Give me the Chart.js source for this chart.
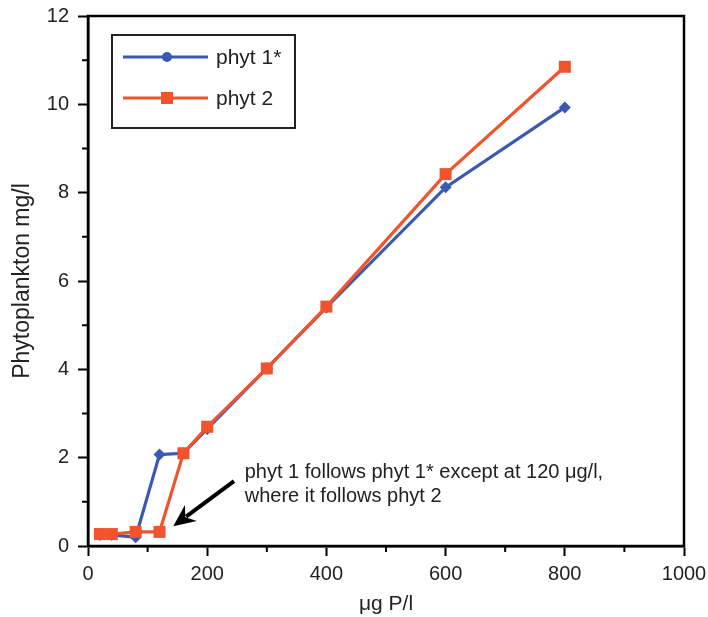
<!DOCTYPE html>
<html>
<head>
<meta charset="utf-8">
<script src="https://cdn.jsdelivr.net/npm/chart.js@4/dist/chart.umd.min.js"></script>
<style>
  html, body { margin: 0; padding: 0; background: #fff; }
  #wrap { width: 708px; height: 617px; }
</style>
</head>
<body>
<div id="wrap"><canvas id="c"></canvas></div>
<script>
const FONT = "'Liberation Sans', Arial, Helvetica, sans-serif";
const BLUE = '#3a5ab2';
const RED  = '#f0542c';

// µg P/l
const phosphorus = [20, 40, 80, 120, 160, 200, 300, 400, 600, 800];
// phytoplankton mg/l
const phyt1Star = [0.25, 0.25, 0.2, 2.07, 2.1, 2.65, 4.02, 5.4, 8.12, 9.93];
const phyt2     = [0.27, 0.27, 0.32, 0.32, 2.1, 2.7, 4.02, 5.42, 8.42, 10.85];

const xTicks = [0, 200, 400, 600, 800, 1000];
const yTicks = [0, 2, 4, 6, 8, 10, 12];

const noteLines = ['phyt 1 follows phyt 1* except at 120 \u03bcg/l,', 'where it follows phyt 2'];
// annotation anchors in data units
const noteAt   = { x: 263, y: [1.67, 1.13] };
const arrowTip = { x: 143, y: 0.45 };
const arrowTail = { x: 245, y: 1.47 };

const toPts = ys => phosphorus.map((x, i) => ({ x, y: ys[i] }));

const extras = {
  id: 'extras',
  afterDraw(chart) {
    const { ctx, chartArea: a, scales: { x, y } } = chart;
    ctx.save();

    // frame
    ctx.strokeStyle = '#000';
    ctx.lineWidth = 2.5;
    ctx.strokeRect(a.left, a.top, a.right - a.left, a.bottom - a.top);

    // minor ticks
    ctx.lineWidth = 2;
    ctx.beginPath();
    for (let v = 100; v < 1000; v += 200) {
      const px = x.getPixelForValue(v);
      ctx.moveTo(px, a.bottom); ctx.lineTo(px, a.bottom + 6);
    }
    for (let v = 1; v < 12; v += 2) {
      const py = y.getPixelForValue(v);
      ctx.moveTo(a.left, py); ctx.lineTo(a.left - 6, py);
    }
    ctx.stroke();

    // legend
    const lx = a.left + 24, ly = a.top + 19, lw = 183, lh = 93;
    ctx.lineWidth = 2;
    ctx.strokeStyle = '#222';
    ctx.strokeRect(lx, ly, lw, lh);
    ctx.font = '21px ' + FONT;
    ctx.textBaseline = 'middle';
    chart.data.datasets.forEach((ds, i) => {
      const cy = ly + 22 + i * 41;
      ctx.strokeStyle = ds.borderColor;
      ctx.fillStyle = ds.borderColor;
      ctx.lineWidth = 3;
      ctx.beginPath();
      ctx.moveTo(lx + 11, cy); ctx.lineTo(lx + 96, cy);
      ctx.stroke();
      if (i === 0) {
        ctx.beginPath(); ctx.arc(lx + 55, cy, 5, 0, Math.PI * 2); ctx.fill();
      } else {
        ctx.fillRect(lx + 49, cy - 6, 12, 12);
      }
      ctx.fillStyle = '#222';
      ctx.fillText(ds.label, lx + 104, cy + 1);
    });

    // annotation text
    ctx.font = '20px ' + FONT;
    ctx.fillStyle = '#222';
    noteLines.forEach((t, i) => {
      ctx.fillText(t, x.getPixelForValue(noteAt.x), y.getPixelForValue(noteAt.y[i]));
    });

    // arrow
    const tx = x.getPixelForValue(arrowTip.x), ty = y.getPixelForValue(arrowTip.y);
    const sx = x.getPixelForValue(arrowTail.x), sy = y.getPixelForValue(arrowTail.y);
    const ang = Math.atan2(ty - sy, tx - sx);
    const hl = 22, hw = 10;
    const bx = tx - Math.cos(ang) * hl, by = ty - Math.sin(ang) * hl;
    ctx.strokeStyle = '#000';
    ctx.fillStyle = '#000';
    ctx.lineWidth = 4;
    ctx.beginPath(); ctx.moveTo(sx, sy); ctx.lineTo(bx + Math.cos(ang) * 6, by + Math.sin(ang) * 6); ctx.stroke();
    ctx.beginPath();
    ctx.moveTo(tx, ty);
    ctx.lineTo(bx + Math.sin(ang) * hw, by - Math.cos(ang) * hw);
    ctx.lineTo(bx + Math.cos(ang) * 7, by + Math.sin(ang) * 7);
    ctx.lineTo(bx - Math.sin(ang) * hw, by + Math.cos(ang) * hw);
    ctx.closePath();
    ctx.fill();

    ctx.restore();
  }
};

new Chart(document.getElementById('c'), {
  type: 'scatter',
  data: {
    datasets: [
      {
        label: 'phyt 1*',
        data: toPts(phyt1Star),
        showLine: true,
        borderColor: BLUE,
        backgroundColor: BLUE,
        borderWidth: 3.2,
        pointStyle: 'rectRot',
        pointRadius: 6,
        pointBorderWidth: 0,
        order: 1,
      },
      {
        label: 'phyt 2',
        data: toPts(phyt2),
        showLine: true,
        borderColor: RED,
        backgroundColor: RED,
        borderWidth: 3.2,
        pointStyle: 'rect',
        pointRadius: 8.5,
        pointBorderWidth: 0,
        order: 0,
      },
    ],
  },
  options: {
    responsive: true,
    maintainAspectRatio: false,
    animation: false,
    layout: { padding: { top: 16, right: 24, left: 0, bottom: 0 } },
    plugins: {
      legend:  { display: false },
      tooltip: { enabled: false },
    },
    scales: {
      x: {
        type: 'linear',
        min: 0, max: 1000,
        afterFit: s => { s.height = 71; s.paddingLeft = 0; s.paddingRight = 0; },
        afterBuildTicks: s => { s.ticks = xTicks.map(v => ({ value: v })); },
        ticks: { color: '#222', padding: 6, font: { size: 20, family: FONT }, callback: v => String(v) },
        grid:  { drawOnChartArea: false, tickLength: 10, tickWidth: 2, tickColor: '#000' },
        border:{ color: '#000', width: 2.5 },
        title: { display: true, text: '\u03bcg P/l', color: '#222', padding: { top: 0, bottom: 0 }, font: { size: 21, family: FONT } },
      },
      y: {
        type: 'linear',
        min: 0, max: 12,
        afterFit: s => { s.width = 88; s.paddingTop = 0; s.paddingBottom = 0; },
        afterBuildTicks: s => { s.ticks = yTicks.map(v => ({ value: v })); },
        ticks: { color: '#222', padding: 9, font: { size: 20, family: FONT }, callback: v => String(v) },
        grid:  { drawOnChartArea: false, tickLength: 10, tickWidth: 2, tickColor: '#000' },
        border:{ color: '#000', width: 2.5 },
        title: { display: true, text: 'Phytoplankton mg/l', color: '#222', padding: { top: 9, bottom: 0 }, font: { size: 23, family: FONT } },
      },
    },
  },
  plugins: [extras],
});
</script>
</body>
</html>
